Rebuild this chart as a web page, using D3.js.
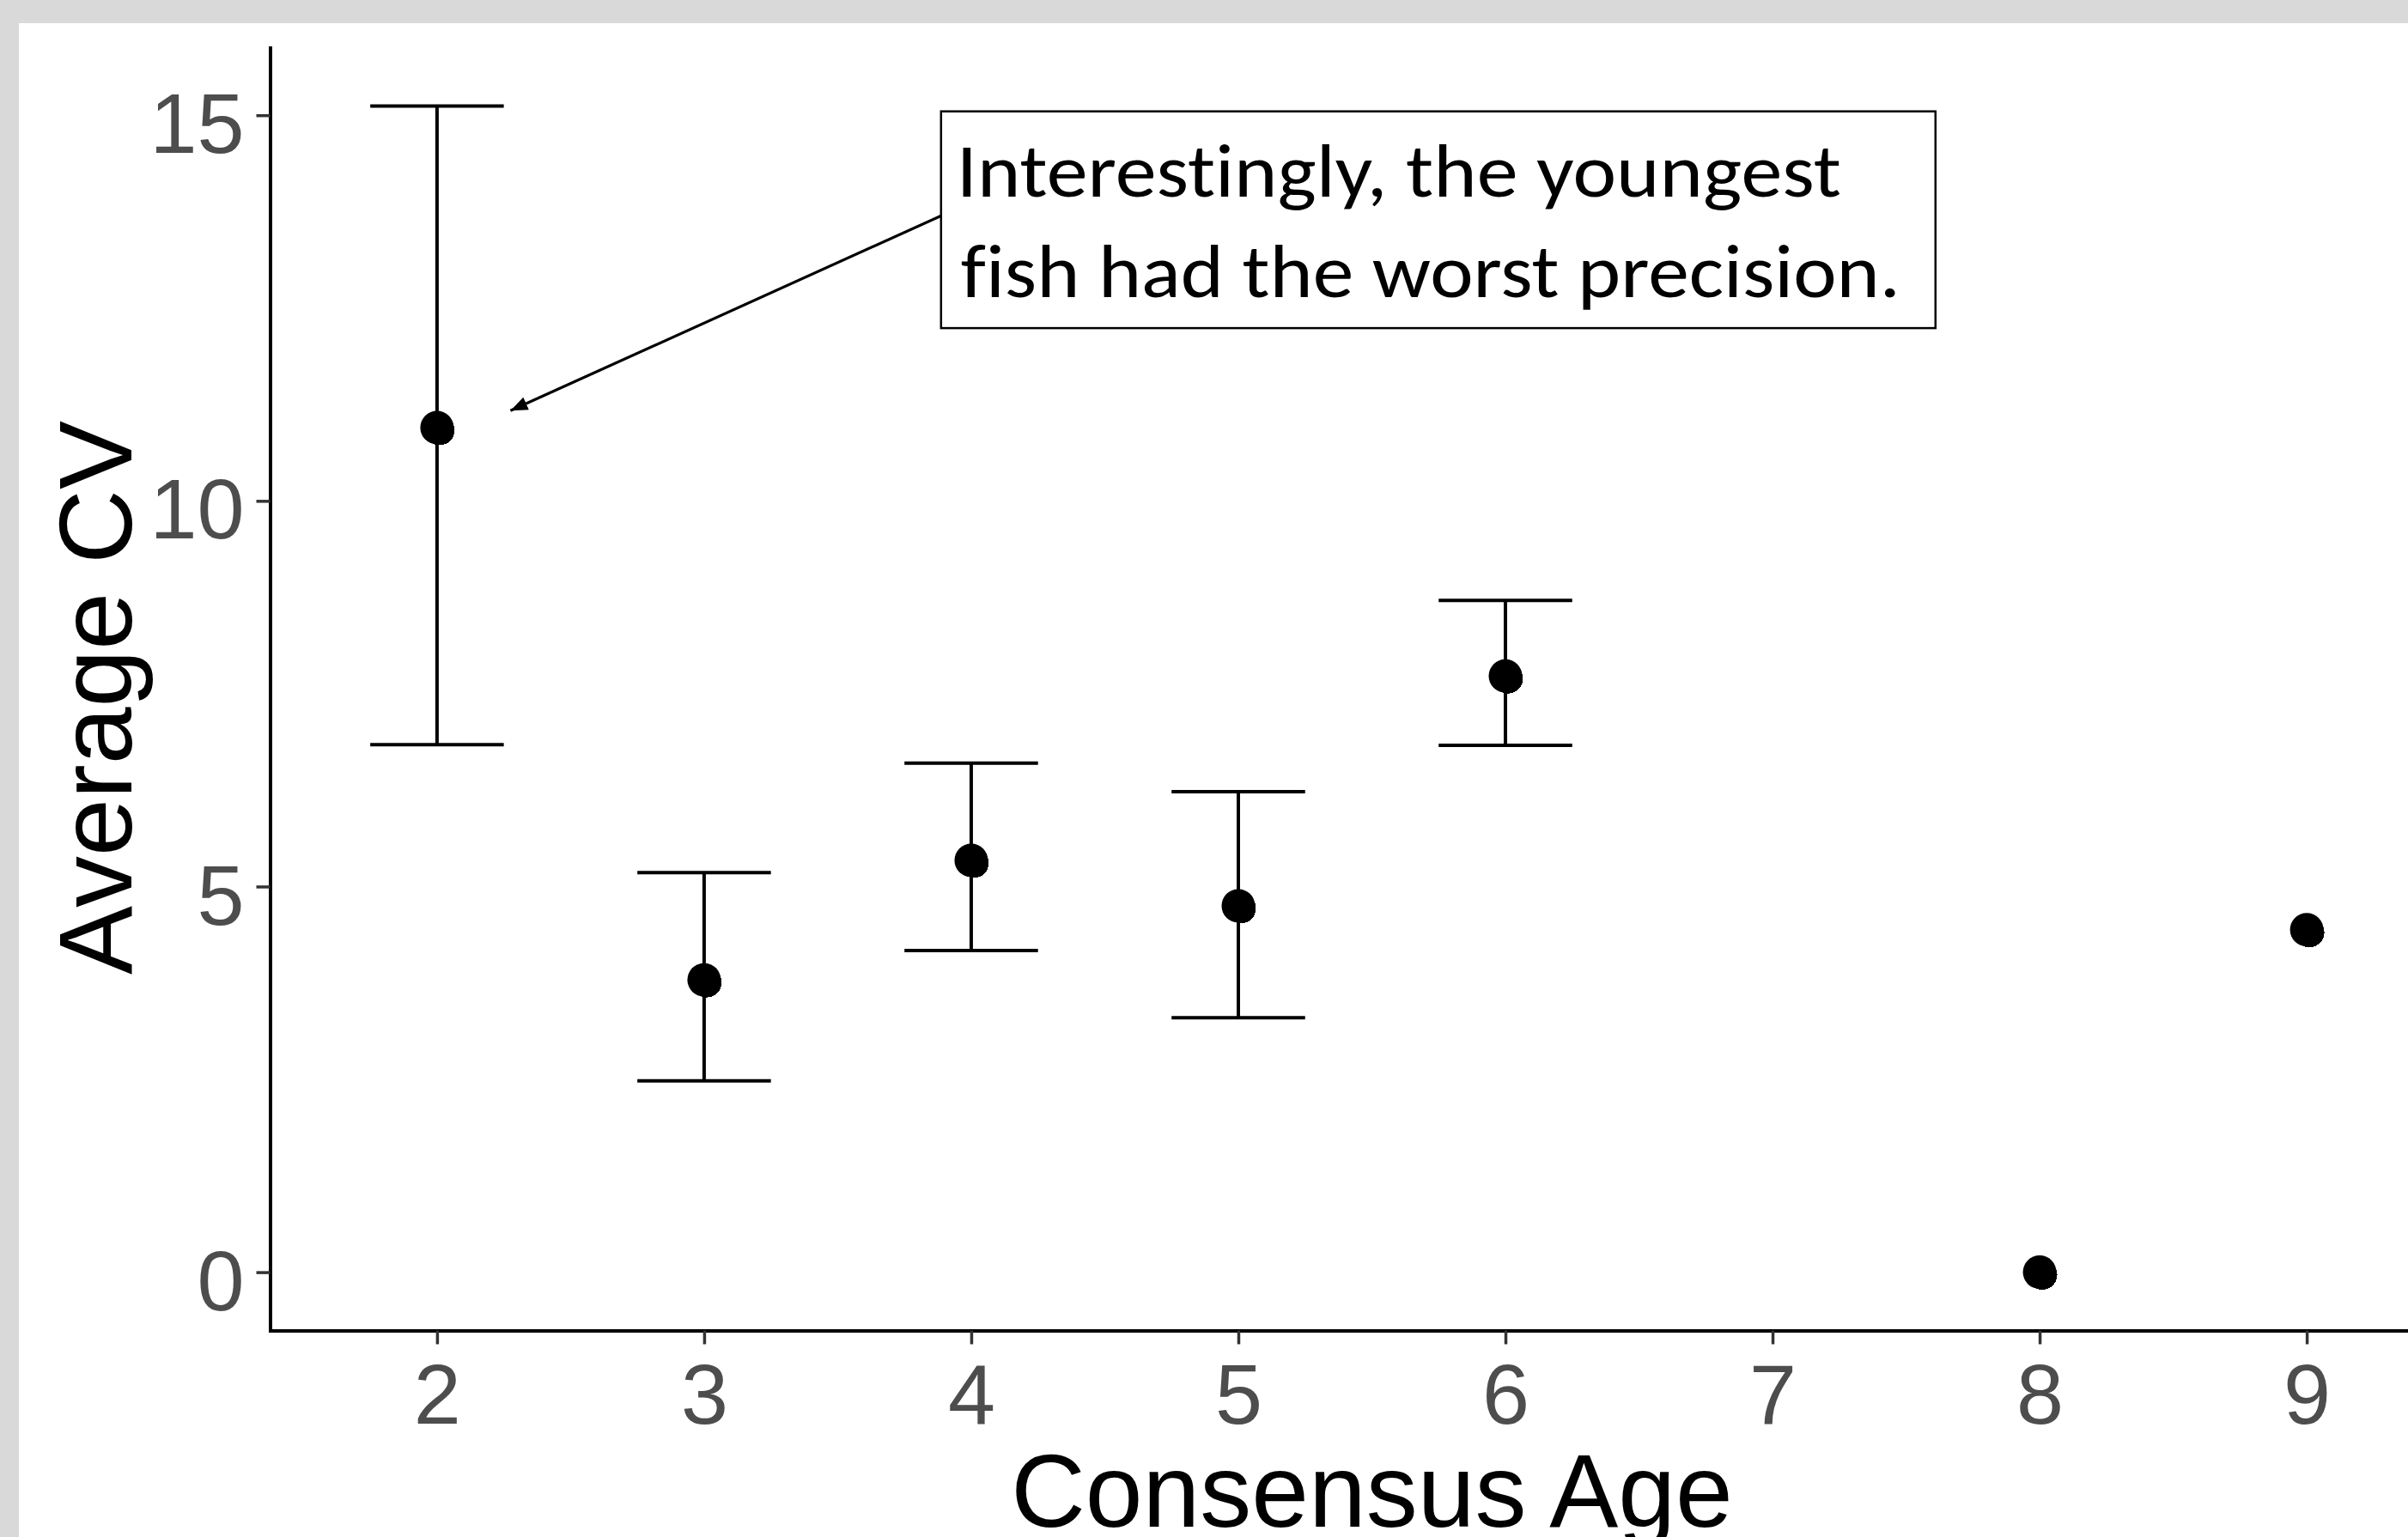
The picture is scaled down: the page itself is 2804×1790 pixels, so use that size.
<!DOCTYPE html>
<html>
<head>
<meta charset="utf-8">
<script src="https://cdn.jsdelivr.net/npm/d3@7"></script>
<style>
  html, body { margin: 0; padding: 0; background: #d9d9d9; overflow: hidden; }
  svg { display: block; }
</style>
</head>
<body>
<svg id="chart" width="2804" height="1790"></svg>
<script>
// values
let ages = [2, 3, 4, 5, 6, 8, 9];
let meanCV = [10.95, 3.79, 5.34, 4.75, 7.73, 0, 4.44];
let lowerCV = [6.84, 2.48, 4.17, 3.30, 6.83, null, null];
let upperCV = [15.12, 5.18, 6.60, 6.23, 8.71, null, null];

let xTicks = [2, 3, 4, 5, 6, 7, 8, 9];
let yTicks = [0, 5, 10, 15];

let noteLines = ["Interestingly, the youngest", "fish had the worst precision."];
let arrowX = [3.96, 2.275];   // from, to (data units)
let arrowY = [13.81, 11.17];
let noteBoxX = [3.887, 7.61];
let noteBoxY = [15.05, 12.24];

function main() {
    var svg = d3.select("#chart");

    // grey frame + white plot background
    svg.append("rect").attr("width", 2804).attr("height", 1790).attr("fill", "#d9d9d9");
    svg.append("rect").attr("x", 22).attr("y", 27)
        .attr("width", 2804 - 22).attr("height", 1790 - 27).attr("fill", "#ffffff");

    var x = d3.scaleLinear().domain([1.375, 9.625]).range([314.5, 2880.5]);
    var y = d3.scaleLinear().domain([-0.756, 15.876]).range([1549.5, 55.5]);

    var rows = ages.map(function(a, i) {
        return { age: a, mean: meanCV[i], lo: lowerCV[i], hi: upperCV[i] };
    });
    var capHalf = 0.25;

    // error bars
    var bars = svg.append("g").selectAll("g.err")
        .data(rows.filter(function(d) { return d.lo !== null; }))
        .enter().append("g").attr("class", "err")
        .attr("stroke", "#000").attr("stroke-width", 4).attr("fill", "none");
    bars.append("line")
        .attr("x1", function(d) { return x(d.age); }).attr("x2", function(d) { return x(d.age); })
        .attr("y1", function(d) { return y(d.lo); }).attr("y2", function(d) { return y(d.hi); });
    bars.append("line")
        .attr("x1", function(d) { return x(d.age - capHalf); }).attr("x2", function(d) { return x(d.age + capHalf); })
        .attr("y1", function(d) { return y(d.hi); }).attr("y2", function(d) { return y(d.hi); });
    bars.append("line")
        .attr("x1", function(d) { return x(d.age - capHalf); }).attr("x2", function(d) { return x(d.age + capHalf); })
        .attr("y1", function(d) { return y(d.lo); }).attr("y2", function(d) { return y(d.lo); });

    // points (the original has a second, slightly offset blocky dot under each)
    var pts = svg.append("g").selectAll("g.pt")
        .data(rows)
        .enter().append("g").attr("class", "pt");
    pts.append("circle")
        .attr("cx", function(d) { return x(d.age) + 3; })
        .attr("cy", function(d) { return y(d.mean) + 3; })
        .attr("r", 17.5)
        .attr("shape-rendering", "crispEdges")
        .attr("fill", "#000");
    pts.append("circle")
        .attr("cx", function(d) { return x(d.age); })
        .attr("cy", function(d) { return y(d.mean); })
        .attr("r", 19.5)
        .attr("fill", "#000");

    // axes
    var xAxis = svg.append("g").attr("transform", "translate(0," + y.range()[0] + ")")
        .call(d3.axisBottom(x).tickValues(xTicks).tickSize(16).tickSizeOuter(0).tickPadding(22));
    var yAxis = svg.append("g").attr("transform", "translate(" + x.range()[0] + ",0)")
        .call(d3.axisLeft(y).tickValues(yTicks).tickSize(16).tickSizeOuter(0).tickPadding(14));

    [xAxis, yAxis].forEach(function(ax) {
        ax.select(".domain").attr("stroke", "#000").attr("stroke-width", 4).attr("stroke-linecap", "square");
        ax.selectAll(".tick line").attr("stroke", "#333333").attr("stroke-width", 3.5);
        ax.selectAll(".tick text")
            .attr("fill", "#4d4d4d")
            .style("font-family", "'Liberation Sans', Arial, sans-serif")
            .style("font-size", "99px");
    });
    yAxis.selectAll(".tick text").attr("dy", "0.44em");

    // axis titles
    svg.append("text")
        .attr("transform", "translate(153," + ((y.range()[0] + y.range()[1]) / 2 + 10) + ") rotate(-90)")
        .attr("text-anchor", "middle")
        .style("font-family", "'Liberation Sans', Arial, sans-serif")
        .style("font-size", "120px")
        .attr("fill", "#000")
        .text("Average CV");
    svg.append("text")
        .attr("x", (x.range()[0] + x.range()[1]) / 2)
        .attr("y", 1778)
        .attr("text-anchor", "middle")
        .style("font-family", "'Liberation Sans', Arial, sans-serif")
        .style("font-size", "120px")
        .attr("fill", "#000")
        .text("Consensus Age");

    // annotation arrow
    svg.append("defs").append("marker")
        .attr("id", "head")
        .attr("markerUnits", "userSpaceOnUse")
        .attr("viewBox", "0 0 20 16")
        .attr("refX", 20).attr("refY", 8)
        .attr("markerWidth", 20).attr("markerHeight", 16)
        .attr("orient", "auto")
        .append("path").attr("d", "M0,0L20,8L0,16Z").attr("fill", "#000");
    svg.append("line")
        .attr("x1", x(arrowX[0])).attr("y1", y(arrowY[0]))
        .attr("x2", x(arrowX[1])).attr("y2", y(arrowY[1]))
        .attr("stroke", "#000").attr("stroke-width", 3.2)
        .attr("marker-end", "url(#head)");

    // annotation box
    var bx = x(noteBoxX[0]), bw = x(noteBoxX[1]) - bx;
    var by = y(noteBoxY[0]), bh = y(noteBoxY[1]) - by;
    svg.append("rect")
        .attr("x", bx).attr("y", by).attr("width", bw).attr("height", bh)
        .attr("fill", "#fff").attr("stroke", "#000").attr("stroke-width", 2.5);

    var lineWidths = [1030, 1094];
    svg.append("g").selectAll("text")
        .data(noteLines)
        .enter().append("text")
        .attr("x", function(d, i) { return bx + (i === 0 ? 18 : 23); })
        .attr("y", function(d, i) { return by + 99 + i * 117; })
        .attr("textLength", function(d, i) { return lineWidths[i]; })
        .attr("lengthAdjust", "spacingAndGlyphs")
        .style("font-family", "Carlito, Calibri, Lato, sans-serif")
        .style("font-size", "88px")
        .style("font-variant-ligatures", "none")
        .attr("fill", "#000")
        .text(function(d) { return d; });
}

main();
</script>
</body>
</html>
